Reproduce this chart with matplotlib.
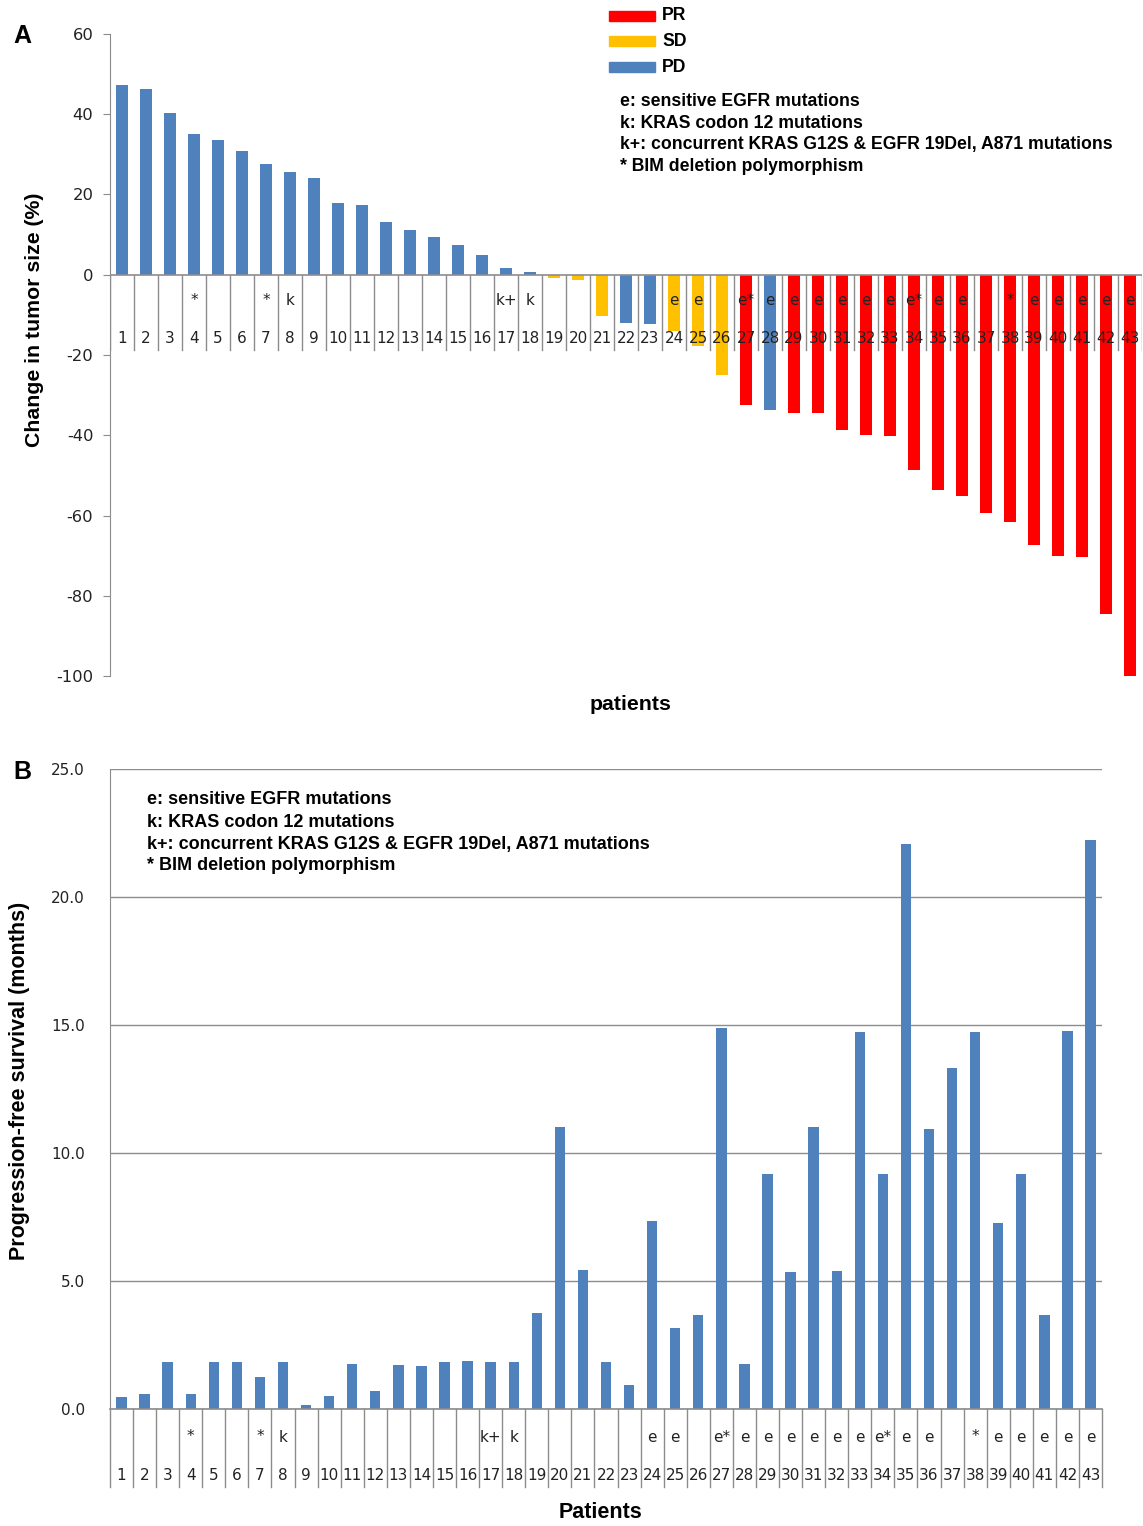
import matplotlib
matplotlib.use("Agg")
import matplotlib.pyplot as plt
from matplotlib.patches import Rectangle

plt.rcParams["axes.unicode_minus"] = False

patients = list(range(1, 44))
tumor_change = [47.4, 46.4, 40.4, 35.1, 33.7, 30.9, 27.7, 25.7, 24.2, 17.9,
                17.4, 13.2, 11.2, 9.5, 7.5, 5.0, 1.7, 0.7, -0.7, -1.2,
                -10.2, -12.0, -12.2, -14.1, -17.7, -25.0, -32.4, -33.7, -34.4, -34.4,
                -38.6, -39.9, -40.1, -48.6, -53.6, -55.1, -59.3, -61.6, -67.3, -70.0,
                -70.3, -84.5, -100.0]
response = (["PD"] * 18 + ["SD"] * 3 + ["PD"] * 2 + ["SD"] * 3 + ["PR", "PD"] + ["PR"] * 15)
pfs = [0.47, 0.59, 1.84, 0.59, 1.84, 1.84, 1.25, 1.84, 0.16, 0.50,
       1.76, 0.70, 1.72, 1.68, 1.84, 1.87, 1.84, 1.84, 3.75, 11.0,
       5.43, 1.84, 0.94, 7.34, 3.16, 3.67, 14.88, 1.76, 9.18, 5.35,
       11.0, 5.39, 14.73, 9.18, 22.07, 10.94, 13.32, 14.73, 7.27, 9.18,
       3.67, 14.77, 22.23]
mutations = ["", "", "", "*", "", "", "*", "k", "", "",
             "", "", "", "", "", "", "k+", "k", "", "",
             "", "", "", "e", "e", "", "e*", "e", "e", "e",
             "e", "e", "e", "e*", "e", "e", "", "*", "e", "e",
             "e", "e", "e"]
resp_colors = {"PR": "#FF0000", "SD": "#FFC000", "PD": "#4F81BD"}
notes = ["e: sensitive EGFR mutations",
         "k: KRAS codon 12 mutations",
         "k+: concurrent KRAS G12S & EGFR 19Del, A871 mutations",
         "* BIM deletion polymorphism"]

W, H = 1143, 1526
fig = plt.figure(figsize=(W / 100, H / 100), dpi=100)
GRAY = "#8C8C8C"
TICKFONT = "DejaVu Sans"
BOLD = "Liberation Sans"

def fx(px):
    return px / W

def fy(py):
    return 1 - py / H

# ---------------- Panel A ----------------
axA = fig.add_axes([fx(110), fy(676), fx(1142) - fx(110), fy(34) - fy(676)])
n = len(patients)
colsA = [resp_colors[r] for r in response]
axA.bar(patients, tumor_change, width=0.5, color=colsA, zorder=3)
axA.set_xlim(0.5, n + 0.5)
axA.set_ylim(-100, 60)
axA.set_yticks(range(-100, 61, 20))
axA.tick_params(axis="y", length=5, color=GRAY, labelsize=11.8, labelcolor="#222222", pad=7)
for lab in axA.get_yticklabels():
    lab.set_family(TICKFONT)
axA.set_xticks([])
for s in ["top", "right", "bottom"]:
    axA.spines[s].set_visible(False)
axA.spines["left"].set_color(GRAY)
axA.axhline(0, color=GRAY, lw=1.2, zorder=4)
for i in range(n + 1):
    axA.plot([i + 0.5, i + 0.5], [0, -18.7], color=GRAY, lw=1.0, zorder=2)
for p, m in zip(patients, mutations):
    axA.text(p, -16.0, str(p), ha="center", va="center", fontsize=11, family=TICKFONT, color="#222222", zorder=5)
    if m:
        axA.text(p, -6.5, m, ha="center", va="center", fontsize=11, family=TICKFONT, color="#222222", zorder=5)
fig.text(fx(35), fy(320), "Change in tumor size (%)", rotation=90, ha="center", va="center",
         fontsize=15.3, fontweight="bold", family=BOLD)
fig.text(fx(631), fy(705), "patients", ha="center", va="center", fontsize=15.3, fontweight="bold", family=BOLD)
fig.text(fx(22), fy(36), "A", ha="center", va="center", fontsize=18, fontweight="bold", family=BOLD)

# legend
for k, (lab, yy) in enumerate([("PR", 16), ("SD", 41), ("PD", 67)]):
    fig.patches.append(Rectangle((fx(609), fy(yy + 5)), fx(46), 10 / H, transform=fig.transFigure,
                                 color=resp_colors[lab], figure=fig))
    fig.text(fx(662), fy(yy), lab, ha="left", va="center", fontsize=12.7, fontweight="bold", family=BOLD)
for k, t in enumerate(notes):
    fig.text(fx(620), fy(102 + 21.5 * k), t, ha="left", va="center", fontsize=12.7, fontweight="bold", family=BOLD)

# ---------------- Panel B ----------------
axB = fig.add_axes([fx(110), fy(1409), fx(1102) - fx(110), fy(769) - fy(1409)])
axB.bar(patients, pfs, width=0.45, color="#4F81BD", zorder=3)
axB.set_xlim(0.5, n + 0.5)
axB.set_ylim(0, 25)
axB.set_yticks([0, 5, 10, 15, 20, 25])
axB.set_yticklabels([f"{v:.1f}" for v in [0, 5, 10, 15, 20, 25]])
axB.tick_params(axis="y", length=0, labelsize=11, labelcolor="#222222", pad=18)
for lab in axB.get_yticklabels():
    lab.set_family(TICKFONT)
axB.set_xticks([])
axB.grid(axis="y", color=GRAY, lw=1.0, zorder=0)
for s in ["top", "right", "bottom"]:
    axB.spines[s].set_visible(False)
axB.spines["left"].set_color(GRAY)
axB.axhline(0, color=GRAY, lw=1.2, zorder=4, clip_on=False)
trB = axB.get_xaxis_transform()
for i in range(n + 1):
    axB.plot([i + 0.5, i + 0.5], [0, -78 / 640], color=GRAY, lw=1.0, transform=trB, clip_on=False)
for p, m in zip(patients, mutations):
    axB.text(p, -66 / 640, str(p), ha="center", va="center", fontsize=11, family=TICKFONT, color="#222222", transform=trB)
    if m:
        axB.text(p, -28 / 640, m, ha="center", va="center", fontsize=11, family=TICKFONT, color="#222222", transform=trB)
for k, t in enumerate(notes):
    axB.text(fx(147), fy(800 + 22 * k), t, ha="left", va="center", fontsize=13, fontweight="bold", family=BOLD,
             transform=fig.transFigure)
fig.text(fx(20), fy(1081), "Progression-free survival (months)", rotation=90, ha="center", va="center",
         fontsize=15.5, fontweight="bold", family=BOLD)
fig.text(fx(600), fy(1513), "Patients", ha="center", va="center", fontsize=15.5, fontweight="bold", family=BOLD)
fig.text(fx(22), fy(772), "B", ha="center", va="center", fontsize=18, fontweight="bold", family=BOLD)

fig.savefig("out.png", dpi=100)
